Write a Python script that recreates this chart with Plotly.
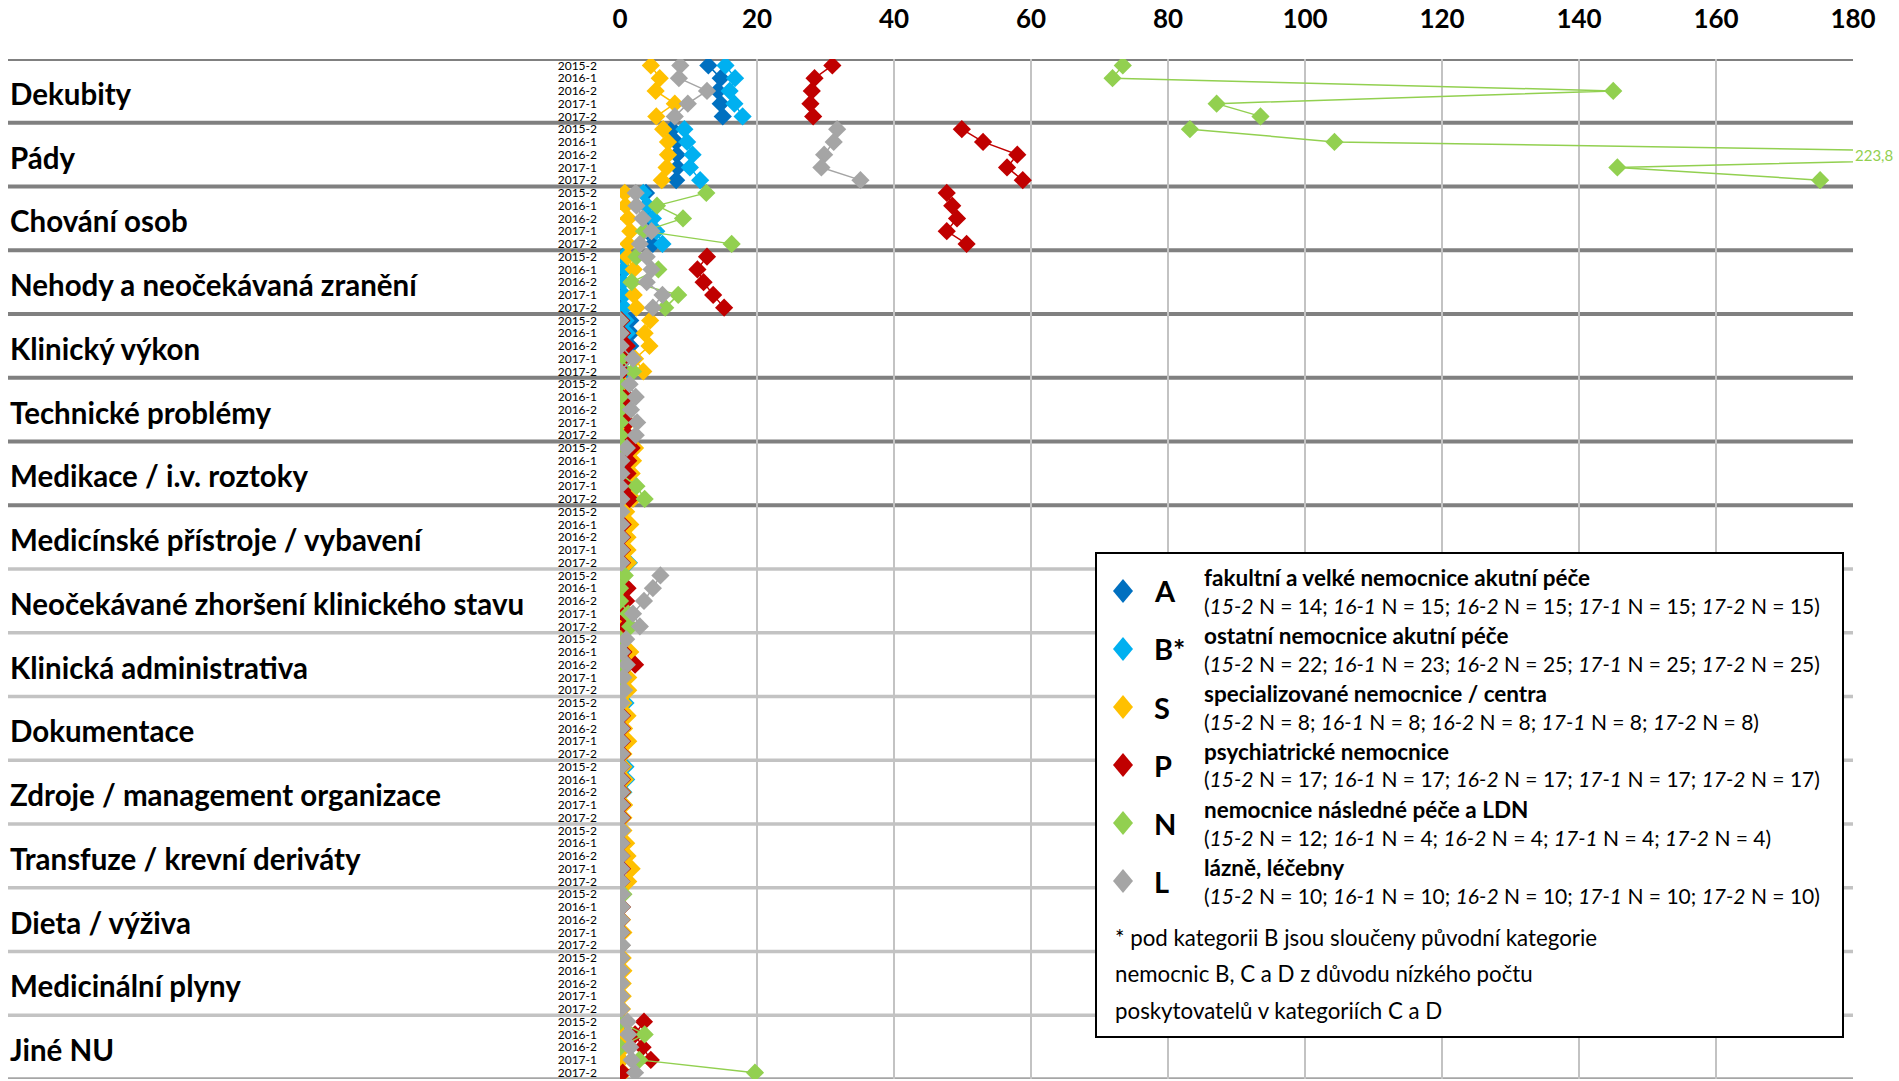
import plotly.graph_objects as go

# ---------------- data ----------------
categories = [
    "Dekubity", "Pády", "Chování osob", "Nehody a neočekávaná zranění",
    "Klinický výkon", "Technické problémy", "Medikace / i.v. roztoky",
    "Medicínské přístroje / vybavení", "Neočekávané zhoršení klinického stavu",
    "Klinická administrativa", "Dokumentace", "Zdroje / management organizace",
    "Transfuze / krevní deriváty", "Dieta / výživa", "Medicinální plyny", "Jiné NU",
]
periods = ["2015-2", "2016-1", "2016-2", "2017-1", "2017-2"]
x_ticks = [0, 20, 40, 60, 80, 100, 120, 140, 160, 180]

A_vals = [
    [12.9, 14.7, 14.3, 14.7, 15.0], [7.6, 8.2, 8.3, 8.4, 8.2], [3.8, 3.9, 4.3, 4.0, 4.8],
    [0.4, 0.6, 0.3, 0.5, 0.4], [1.5, 1.6, 1.5, 0.8, 0.7], [0.3, 0.4, 0.3, 0.5, 0.4],
    [0.3, 0.4, 0.3, 0.4, 0.5], [0.3, 0.3, 0.3, 0.4, 0.4], [0.2, 0.3, 0.2, 0.4, 0.3],
    [0.2, 0.3, 0.3, 0.3, 0.2], [0.3, 0.2, 0.3, 0.2, 0.3], [0.4, 0.6, 0.4, 0.3, 0.3],
    [0.1, 0.2, 0.1, 0.2, 0.2], [0.1, 0.1, 0.1, 0.1, 0.1], [0.0, 0.1, 0.1, 0.1, 0.0],
    [0.3, 0.2, 0.3, 0.1, 0.1],
]
B_vals = [
    [15.4, 16.8, 16.0, 16.7, 17.9], [9.4, 9.8, 10.6, 10.2, 11.7], [3.4, 4.0, 4.8, 5.3, 6.2],
    [0.5, 0.7, 0.4, 0.6, 0.6], [0.8, 1.0, 0.9, 0.5, 0.6], [0.4, 0.5, 0.4, 0.6, 0.5],
    [0.0, 0.5, 0.4, 0.4, 0.6], [0.4, 0.4, 0.4, 0.5, 1.3], [0.3, 0.4, 0.3, 0.5, 0.4],
    [0.3, 0.4, 0.4, 0.3, 0.3], [0.8, 0.4, 0.4, 0.4, 0.4], [0.8, 0.9, 0.5, 0.5, 0.4],
    [0.2, 0.3, 0.2, 0.3, 0.3], [0.2, 0.2, 0.2, 0.2, 0.2], [0.1, 0.1, 0.1, 0.1, 0.1],
    [0.3, 0.0, 0.4, 0.0, 0.0],
]
S_vals = [
    [4.5, 5.8, 5.2, 8.0, 5.3], [6.3, 7.0, 7.0, 6.8, 6.1], [0.7, 0.8, 1.2, 1.5, 1.2],
    [1.1, 2.0, 1.7, 2.0, 2.4], [4.4, 3.6, 4.3, 2.2, 3.4], [0.5, 0.6, 0.5, 1.2, 0.7],
    [2.2, 1.9, 1.7, 1.2, 1.9], [0.9, 1.5, 1.1, 1.1, 1.2], [0.0, 0.3, 0.3, 0.0, 0.1],
    [0.5, 1.5, 0.6, 1.2, 1.2], [0.5, 1.1, 0.6, 1.2, 0.5], [0.5, 0.7, 0.4, 0.6, 0.5],
    [0.5, 0.9, 1.1, 1.7, 1.2], [0.3, 0.3, 0.3, 0.5, 0.2], [0.4, 0.5, 0.4, 0.4, 0.3],
    [0.2, 0.2, 0.6, 0.2, 0.5],
]
P_vals = [
    [31.0, 28.4, 28.0, 27.8, 28.2], [49.9, 53.0, 58.0, 56.5, 58.8], [47.7, 48.5, 49.2, 47.7, 50.6],
    [12.7, 11.3, 12.2, 13.6, 15.2], [0.2, 0.3, 1.0, 0.7, 0.3], [0.0, 1.0, 0.5, 1.1, 1.1],
    [1.7, 1.2, 1.1, 0.9, 1.4], [0.0, 0.4, 0.3, 0.3, 0.3], [0.2, 1.1, 0.9, 0.5, 0.9],
    [0.0, 0.5, 2.2, 0.4, 0.4], [0.0, 0.3, 0.3, 0.3, 0.3], [0.2, 0.3, 0.3, 0.3, 0.3],
    [0.2, 0.2, 0.2, 0.3, 0.2], [0.0, 0.3, 0.2, 0.2, 0.2], [0.1, 0.1, 0.1, 0.1, 0.1],
    [3.5, 2.2, 3.3, 4.5, 0.4],
]
N_vals = [
    [73.4, 71.9, 145.0, 87.1, 93.5], [83.2, 104.3, 223.8, 145.6, 175.2], [12.6, 5.4, 9.2, 3.5, 16.3],
    [2.4, 5.6, 1.7, 8.5, 6.6], [0.0, 0.0, 0.0, 0.0, 1.9], [0.0, 0.0, 0.0, 0.0, 0.0],
    [0.5, 0.0, 0.0, 2.4, 3.6], [0.0, 0.0, 0.0, 0.0, 0.0], [0.7, 0.0, 0.0, 1.2, 1.5],
    [0.0, 0.0, 0.0, 0.0, 0.0], [0.0, 0.0, 0.0, 0.0, 0.0], [0.0, 0.0, 0.0, 0.0, 0.0],
    [0.0, 0.0, 0.0, 0.0, 0.0], [0.5, 0.0, 0.0, 0.0, 0.0], [0.0, 0.0, 0.0, 0.0, 0.0],
    [0.0, 3.6, 0.0, 2.8, 19.7],
]
L_vals = [
    [8.8, 8.6, 12.7, 9.9, 8.0], [31.7, 31.2, 29.8, 29.4, 35.1], [2.3, 2.4, 3.3, 4.6, 2.9],
    [3.9, 4.6, 3.9, 6.2, 4.8], [0.0, 0.1, 0.1, 1.9, 0.0], [1.4, 2.3, 1.6, 2.5, 2.3],
    [1.0, 0.2, 0.2, 0.0, 0.2], [0.2, 0.2, 0.2, 0.2, 0.2], [5.9, 4.8, 3.5, 1.9, 2.9],
    [0.9, 0.3, 1.0, 0.5, 0.6], [0.2, 0.2, 0.2, 0.2, 0.2], [0.2, 0.2, 0.2, 0.2, 0.2],
    [0.3, 0.2, 0.2, 0.2, 0.2], [0.3, 0.3, 0.2, 0.2, 0.3], [0.2, 0.2, 0.2, 0.2, 0.2],
    [1.1, 1.2, 1.5, 1.7, 2.2],
]

series_keys = ["A", "B*", "S", "P", "N", "L"]
series_colors = ["#0070C0", "#00B0F0", "#FFC000", "#C00000", "#92D050", "#A5A5A5"]
series_desc = [
    "fakultní a velké nemocnice akutní péče",
    "ostatní nemocnice akutní péče",
    "specializované nemocnice / centra",
    "psychiatrické nemocnice",
    "nemocnice následné péče a LDN",
    "lázně, léčebny",
]
legend_periods = ["15-2", "16-1", "16-2", "17-1", "17-2"]
n_counts = [
    [14, 15, 15, 15, 15],
    [22, 23, 25, 25, 25],
    [8, 8, 8, 8, 8],
    [17, 17, 17, 17, 17],
    [12, 4, 4, 4, 4],
    [10, 10, 10, 10, 10],
]
footnote = [
    "* pod kategorii B jsou sloučeny původní kategorie",
    "nemocnic B, C a D z důvodu nízkého počtu",
    "poskytovatelů v kategoriích C a D",
]
all_vals = [A_vals, B_vals, S_vals, P_vals, N_vals, L_vals]

# ---------------- geometry ----------------
W, H = 1899, 1081
X0, X1 = 620, 1853      # plot area in px
Y0, Y1 = 59, 1079
XMAX = 180
FONT = "Lato"


def px(x):
    return (x - X0) / (X1 - X0)


def py(y):
    return (Y1 - y) / (Y1 - Y0)


npr = len(periods)
nrows = len(categories) * npr

fig = go.Figure()
for key, vals, color in zip(series_keys, all_vals, series_colors):
    xs, ys = [], []
    for ci, row in enumerate(vals):
        for pi, v in enumerate(row):
            xs.append(v)
            ys.append(ci * npr + pi)
        xs.append(None)
        ys.append(None)
    fig.add_trace(go.Scatter(
        x=xs, y=ys, mode="lines+markers", name=key, connectgaps=False,
        line=dict(color=color, width=1.5),
        marker=dict(symbol="diamond", size=14, color=color, line=dict(width=0)),
        showlegend=False, hoverinfo="x+y",
    ))

shapes = []
# category separators
for k in range(len(categories) + 1):
    yv = k * npr - 0.5
    if k <= 7:
        col, wd = "#808080", 4
    elif k == len(categories):
        col, wd = "#a6a6a6", 3.5
    else:
        col, wd = "#c3c3c3", 3.5
    shapes.append(dict(type="line", xref="paper", yref="y", x0=px(8), x1=1.0,
                       y0=yv, y1=yv, line=dict(color=col, width=wd), layer="below"))

annotations = []
for ci, cat in enumerate(categories):
    annotations.append(dict(
        xref="paper", yref="y", x=px(8), y=ci * npr + 2.2, text=cat,
        showarrow=False, xanchor="left", yanchor="middle",
        font=dict(family=FONT, size=29.5, color="black", weight="bold"),
    ))

# clipped value label
n_idx = series_keys.index("N")
for ci, row in enumerate(N_vals):
    for pi, v in enumerate(row):
        if v > XMAX:
            annotations.append(dict(
                xref="x", yref="y", x=XMAX, y=ci * npr + pi,
                text=f"{v:.1f}".replace(".", ","), showarrow=False,
                xanchor="left", yanchor="middle", xshift=0,
                font=dict(family=FONT, size=15, color=series_colors[n_idx]),
            ))

# legend box
shapes.append(dict(type="rect", xref="paper", yref="paper",
                   x0=px(1096), x1=px(1843), y0=py(553), y1=py(1037),
                   fillcolor="white", line=dict(color="black", width=2), layer="above"))
for i, (key, col, desc, cnts) in enumerate(zip(series_keys, series_colors, series_desc, n_counts)):
    cy = 591 + 58 * i
    cx = 1123
    hw, hh = 10, 12
    path = (f"M {px(cx)} {py(cy - hh)} L {px(cx + hw)} {py(cy)} "
            f"L {px(cx)} {py(cy + hh)} L {px(cx - hw)} {py(cy)} Z")
    shapes.append(dict(type="path", xref="paper", yref="paper", path=path,
                       fillcolor=col, line=dict(width=0), layer="above"))
    annotations.append(dict(
        xref="paper", yref="paper", x=px(1152), y=py(cy), text=key,
        showarrow=False, xanchor="left", yanchor="middle",
        font=dict(family=FONT, size=29, color="black", weight="bold")))
    annotations.append(dict(
        xref="paper", yref="paper", x=px(1202), y=py(cy - 14), text=desc,
        showarrow=False, xanchor="left", yanchor="middle",
        font=dict(family=FONT, size=22.5, color="black", weight="bold")))
    detail = "(" + "; ".join(f"<i>{p}</i> N = {n}" for p, n in zip(legend_periods, cnts)) + ")"
    annotations.append(dict(
        xref="paper", yref="paper", x=px(1202), y=py(cy + 14), text=detail,
        showarrow=False, xanchor="left", yanchor="middle",
        font=dict(family=FONT, size=21, color="black")))
for j, line in enumerate(footnote):
    annotations.append(dict(
        xref="paper", yref="paper", x=px(1113), y=py(937 + 36.5 * j), text=line,
        showarrow=False, xanchor="left", yanchor="middle",
        font=dict(family=FONT, size=22.3, color="black")))

fig.update_layout(
    width=W, height=H,
    margin=dict(l=X0, r=W - X1, t=Y0, b=H - Y1, pad=0),
    paper_bgcolor="white", plot_bgcolor="white",
    showlegend=False,
    shapes=shapes, annotations=annotations,
    font=dict(family=FONT, color="black"),
)
fig.update_xaxes(
    range=[0, XMAX], side="top", tickvals=x_ticks, ticks="",
    showgrid=True, gridcolor="#c3c3c3", gridwidth=2, zeroline=False,
    showline=False, ticklabelstandoff=25, automargin=False,
    tickfont=dict(family=FONT, size=26, color="black", weight="bold"),
)
fig.update_yaxes(
    range=[nrows - 0.5, -0.5], tickvals=list(range(nrows)),
    ticktext=periods * len(categories), ticks="", showgrid=False,
    zeroline=False, showline=False, ticklabelstandoff=22, automargin=False,
    tickfont=dict(family=FONT, size=12, color="black"),
)

fig.write_html("out.html", config={"displayModeBar": False},
               post_script="document.body.style.margin='0px';")
